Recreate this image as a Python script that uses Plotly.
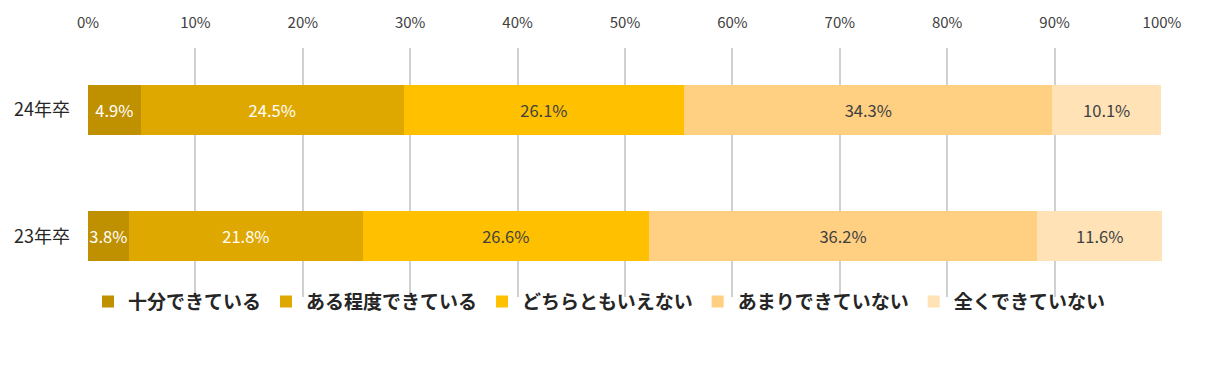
import plotly.graph_objects as go

categories = ["23年卒", "24年卒"]
series_names = ["十分できている", "ある程度できている", "どちらともいえない", "あまりできていない", "全くできていない"]
values = {
    "十分できている": [3.8, 4.9],
    "ある程度できている": [21.8, 24.5],
    "どちらともいえない": [26.6, 26.1],
    "あまりできていない": [36.2, 34.3],
    "全くできていない": [11.6, 10.1],
}
colors = ["#BF9000", "#DFA800", "#FFC000", "#FFCF82", "#FFE2B6"]
label_colors = ["#FFFFFF", "#FFFFFF", "#404040", "#404040", "#404040"]
x_ticks = [0, 10, 20, 30, 40, 50, 60, 70, 80, 90, 100]

font_family = "Noto Sans CJK JP, Noto Sans, sans-serif"
ypos = list(range(len(categories)))

fig = go.Figure()
for name, c, lc in zip(series_names, colors, label_colors):
    vals = values[name]
    fig.add_trace(go.Bar(
        name=name,
        y=ypos,
        x=vals,
        orientation="h",
        marker=dict(color=c, line=dict(width=0)),
        width=0.397,
        text=[f"{v:.1f}%" for v in vals],
        textposition="inside",
        insidetextanchor="middle",
        textangle=0,
        textfont=dict(color=lc, size=16.5, family=font_family),
        constraintext="none",
        hoverinfo="skip",
    ))

fig.update_layout(
    barmode="stack",
    width=1206,
    height=369,
    margin=dict(l=80, r=52, t=40, b=80),
    plot_bgcolor="white",
    paper_bgcolor="white",
    font=dict(family=font_family, color="#404040"),
    xaxis=dict(
        side="top",
        range=[0, 100],
        tickvals=x_ticks,
        ticktext=[f"{t}%" for t in x_ticks],
        showgrid=True,
        gridcolor="#D0D0D0",
        gridwidth=1.5,
        zeroline=False,
        showline=False,
        ticks="",
        tickfont=dict(size=15, color="#404040"),
        ticklabelstandoff=16,
        automargin=False,
        fixedrange=True,
    ),
    yaxis=dict(
        range=[-0.48, 1.492],
        tickvals=ypos,
        ticktext=categories,
        showgrid=False,
        zeroline=False,
        showline=False,
        ticks="",
        tickfont=dict(size=18, color="#262626"),
        ticklabelstandoff=17,
        automargin=False,
        fixedrange=True,
    ),
    legend=dict(
        orientation="h",
        x=0.0,
        xanchor="left",
        y=0.058,
        yanchor="top",
        traceorder="normal",
        font=dict(size=19, color="#262626", family=font_family, weight="bold"),
        itemwidth=30,
        bgcolor="rgba(0,0,0,0)",
        tracegroupgap=0,
    ),
    showlegend=True,
)

fig.write_html("out.html")
